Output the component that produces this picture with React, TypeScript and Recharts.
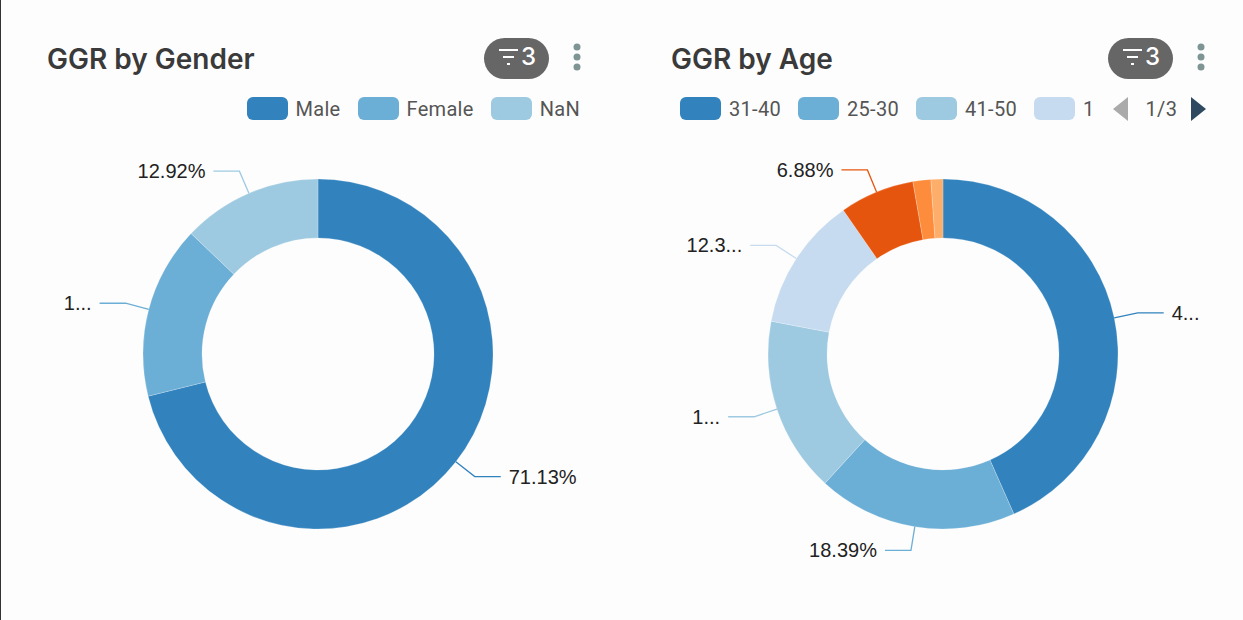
import { PieChart, Pie, Cell, Legend } from "recharts";

const genderNames = ["Male", "Female", "NaN"];
const genderValues = [71.13, 15.95, 12.92];
const genderLabels = ["71.13%", "1...", "12.92%"];
const genderLegend = ["Male", "Female", "NaN"];

const ageNames = ["31-40", "25-30", "41-50", "18-24", "51-60", "61-70", "70+"];
const ageValues = [43.3, 18.39, 16.2, 12.33, 6.88, 1.65, 1.1];
const ageLabels = ["4...", "18.39%", "1...", "12.3...", "6.88%", "", ""];
const ageLegend = ["31-40", "25-30", "41-50", "1"];

const COLORS = ["#3182bd", "#6baed6", "#9ecae1", "#c6dbef", "#e6550d", "#fd8d3c", "#fdae6b"];
const RAD = Math.PI / 180;
const TITLE_FONT = "Inter, sans-serif";
const LEGEND_FONT = "Roboto, sans-serif";
const LABEL_FONT = "'Liberation Sans', Arial, sans-serif";

const toRows = (names: string[], values: number[]) =>
  names.map((name, i) => ({ name, value: values[i] }));

// label with its elbow line, the picture has a radial piece then a short horizontal one
function makeLabel(labels: string[]) {
  return (props: any) => {
    const { cx, cy, midAngle, outerRadius, index } = props;
    const text = labels[index];
    if (!text) return null;
    const sin = Math.sin(-midAngle * RAD);
    const cos = Math.cos(-midAngle * RAD);
    const x0 = cx + outerRadius * cos;
    const y0 = cy + outerRadius * sin;
    const x1 = cx + (outerRadius + 24) * cos;
    const y1 = cy + (outerRadius + 24) * sin;
    const dir = cos >= 0 ? 1 : -1;
    const x2 = x1 + dir * 26;
    return (
      <g>
        <polyline
          points={`${x0},${y0} ${x1},${y1} ${x2},${y1}`}
          fill="none"
          stroke={COLORS[index]}
          strokeWidth={1.3}
        />
        <text
          x={x2 + dir * 8}
          y={y1}
          dy={7}
          textAnchor={dir > 0 ? "start" : "end"}
          fontFamily={LABEL_FONT}
          fontSize={20}
          fill="#222"
        >
          {text}
        </text>
      </g>
    );
  };
}

function Swatch({ color }: { color: string }) {
  return <span style={{ width: 41, height: 23, borderRadius: 6, background: color, display: "inline-block" }} />;
}

function LegendRow({ items, paged }: { items: string[]; paged?: boolean }) {
  return (
    <div
      style={{
        display: "flex",
        alignItems: "center",
        justifyContent: paged ? "flex-start" : "flex-end",
        gap: 17,
        fontFamily: LEGEND_FONT,
        fontSize: 20,
        letterSpacing: 0.3,
        color: "#555",
        height: 23,
        whiteSpace: "nowrap",
      }}
    >
      {items.map((item, i) => (
        <span key={item} style={{ display: "inline-flex", alignItems: "center", gap: 8 }}>
          <Swatch color={COLORS[i]} />
          {item}
        </span>
      ))}
      {paged && (
        <span style={{ display: "inline-flex", alignItems: "center", marginLeft: 1 }}>
          <svg width={15} height={24} style={{ marginRight: 18 }}>
            <polygon points="15,0 15,24 0,12" fill="#aaa" />
          </svg>
          <span style={{ width: 26 }}>1/3</span>
          <svg width={15} height={24} style={{ marginLeft: 19 }}>
            <polygon points="0,0 0,24 15,12" fill="#2f4a60" />
          </svg>
        </span>
      )}
    </div>
  );
}

function FilterBadge({ left }: { left: number }) {
  return (
    <div
      style={{
        position: "absolute",
        left,
        top: 38,
        width: 65,
        height: 41,
        borderRadius: 21,
        background: "#666",
        color: "#fff",
        fontFamily: TITLE_FONT,
        fontSize: 24,
        fontWeight: 500,
      }}
    >
      <svg width={22} height={20} style={{ position: "absolute", left: 14, top: 10 }}>
        <path d="M1 2 H20 M5 9 H16 M9 16 H12" stroke="#fff" strokeWidth={2} />
      </svg>
      <span style={{ position: "absolute", left: 37, top: 4 }}>3</span>
    </div>
  );
}

function Kebab({ left }: { left: number }) {
  return (
    <svg width={10} height={30} style={{ position: "absolute", left, top: 42 }}>
      <circle cx={5} cy={5} r={3.5} fill="#7f9594" />
      <circle cx={5} cy={15} r={3.5} fill="#7f9594" />
      <circle cx={5} cy={25} r={3.5} fill="#7f9594" />
    </svg>
  );
}

function Donut({
  rows,
  labels,
  legend,
  paged,
  cx,
  legendLeft,
  legendWidth,
}: {
  rows: { name: string; value: number }[];
  labels: string[];
  legend: string[];
  paged?: boolean;
  cx: number;
  legendLeft: number;
  legendWidth: number;
}) {
  return (
    <PieChart width={620} height={620} margin={{ top: 0, right: 0, bottom: 0, left: 0 }}>
      <Legend
        verticalAlign="top"
        align="left"
        content={() => <LegendRow items={legend} paged={paged} />}
        wrapperStyle={{ left: legendLeft, top: 97, width: legendWidth, height: 23 }}
      />
      {/* the top legend pushes the plot area down by its 23px height */}
      <Pie
        data={rows}
        dataKey="value"
        nameKey="name"
        cx={cx}
        cy={331}
        innerRadius={116}
        outerRadius={175}
        startAngle={90}
        endAngle={-270}
        stroke="#fff"
        strokeOpacity={0.35}
        strokeWidth={0.6}
        label={makeLabel(labels)}
        labelLine={false}
        isAnimationActive={false}
      >
        {rows.map((row, i) => (
          <Cell key={row.name} fill={COLORS[i]} />
        ))}
      </Pie>
    </PieChart>
  );
}

const titleStyle = {
  position: "absolute" as const,
  top: 41,
  fontFamily: TITLE_FONT,
  fontSize: 28,
  fontWeight: 600,
  color: "#3a3a3a",
  lineHeight: "36px",
};

export default function App() {
  return (
    <div
      style={{
        position: "absolute",
        left: 0,
        top: 0,
        width: 1243,
        height: 620,
        background: "#fdfdfd",
        overflow: "hidden",
      }}
    >
      <div style={{ position: "absolute", left: 0, top: 0, width: 1, height: 620, background: "#333" }} />
      <div style={{ position: "absolute", left: 0, top: 0 }}>
        <Donut
          rows={toRows(genderNames, genderValues)}
          labels={genderLabels}
          legend={genderLegend}
          cx={318}
          legendLeft={180}
          legendWidth={400}
        />
      </div>
      <div style={{ position: "absolute", left: 620, top: 0 }}>
        <Donut
          rows={toRows(ageNames, ageValues)}
          labels={ageLabels}
          legend={ageLegend}
          paged
          cx={323}
          legendLeft={60}
          legendWidth={560}
        />
      </div>
      <div style={{ ...titleStyle, left: 47 }}>GGR by Gender</div>
      <div style={{ ...titleStyle, left: 671 }}>GGR by Age</div>
      <FilterBadge left={484} />
      <Kebab left={572} />
      <FilterBadge left={1108} />
      <Kebab left={1196} />
    </div>
  );
}
